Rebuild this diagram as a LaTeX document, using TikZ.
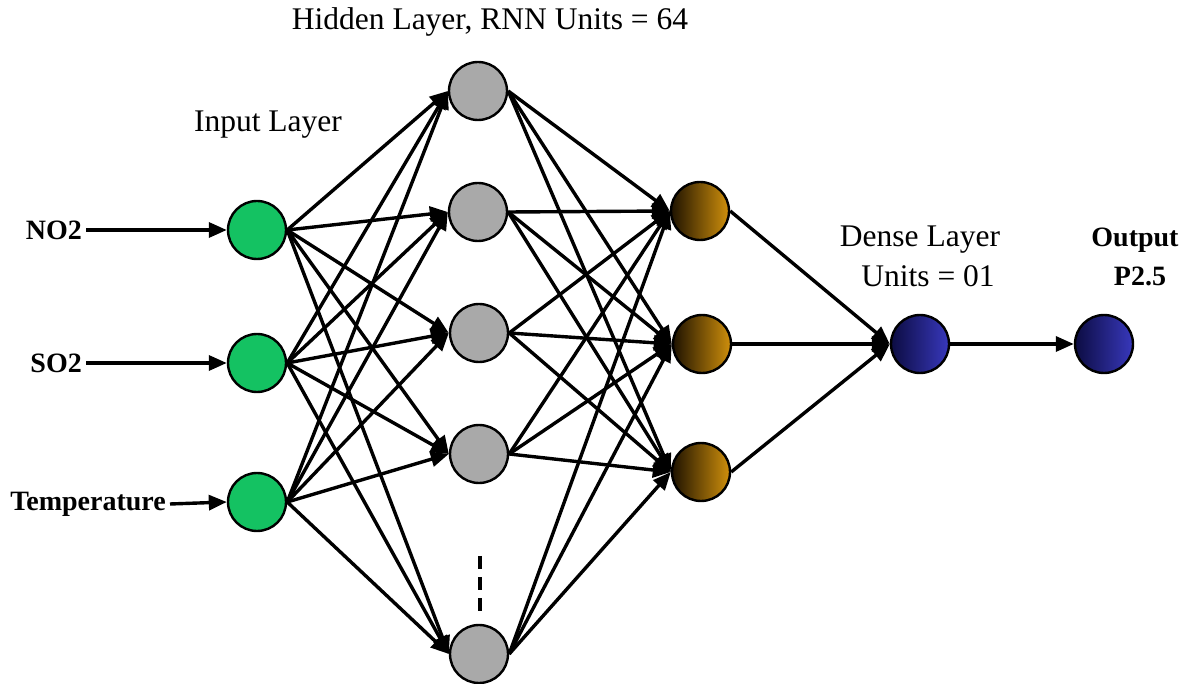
\documentclass[tikz,border=0pt]{standalone}
\usepackage{fontspec}
\setmainfont{Liberation Serif}
\usetikzlibrary{arrows.meta}
\definecolor{ingreen}{HTML}{14C262}
\definecolor{hidgray}{HTML}{A9A9A9}
\definecolor{browndark}{HTML}{1E1200}
\definecolor{brownlight}{HTML}{D0900C}
\definecolor{bluedark}{HTML}{0C0C42}
\definecolor{bluelight}{HTML}{3838BC}
\tikzset{
  neuron/.style={circle, draw=black, line width=2.4pt, minimum size=58pt, inner sep=0pt},
  inunit/.style={neuron, fill=ingreen},
  hidunit/.style={neuron, fill=hidgray},
  rnnunit/.style={neuron, left color=browndark, right color=brownlight},
  outunit/.style={neuron, left color=bluedark, right color=bluelight},
  link/.style={line width=3.4pt, -{Triangle[length=18pt,width=15pt]}},
  plain/.style={font=\fontsize{31.5}{36}\selectfont, inner sep=0pt},
  boldlabel/.style={font=\fontsize{28}{32}\selectfont\bfseries, inner sep=4pt},
}
\begin{document}
\begin{tikzpicture}[x=1pt,y=-1pt]
\useasboundingbox (0,0) rectangle (1187,684);

% input layer
\node[inunit] (i1) at (257,230) {};
\node[inunit] (i2) at (257,363) {};
\node[inunit] (i3) at (257,502) {};

% hidden RNN layer
\node[hidunit] (h1) at (478,91) {};
\node[hidunit] (h2) at (478,212) {};
\node[hidunit] (h3) at (479,333) {};
\node[hidunit] (h4) at (479,454) {};
\node[hidunit] (h5) at (479,654) {};

% second layer
\node[rnnunit] (r1) at (700,211) {};
\node[rnnunit] (r2) at (702,344) {};
\node[rnnunit] (r3) at (701,472) {};

% dense and output
\node[outunit] (d) at (920,344) {};
\node[outunit] (o) at (1104,344) {};

% titles
\node[plain] (tHidden) at (490,22) {Hidden Layer, RNN Units = 64};
\node[plain] (tInput) at (268,125) {Input Layer};
\node[plain] (tDense) at (920,240) {Dense Layer};
\node[plain] (tUnits) at (928,276) {Units = 01};
\node[boldlabel] (tOut) at (1135,240) {Output};
\node[boldlabel] (tP) at (1140,276) {P2.5};

% input labels
\node[boldlabel, anchor=east] (lNO) at (86,230) {NO2};
\node[boldlabel, anchor=east] (lSO) at (86,363) {SO2};
\node[boldlabel, anchor=east] (lT) at (170,504) {Temperature};

\draw[link] (lNO.east) -- (i1.west);
\draw[link] (lSO.east) -- (i2.west);
\draw[link] (lT.east) -- (i3.west);

% full connections, fanning out from the right point of each unit
\foreach \a in {i1,i2,i3}
  \foreach \b in {h1,h2,h3,h4,h5}
    \draw[link] (\a.east) -- (\b.west);
\foreach \a in {h1,h2,h3,h4,h5}
  \foreach \b in {r1,r2,r3}
    \draw[link] (\a.east) -- (\b.west);
\foreach \a in {r1,r2,r3}
  \draw[link] (\a.east) -- (d.west);
\draw[link] (d.east) -- (o.west);

% elided hidden units
\coordinate (dTop) at (480,556);
\coordinate (dBot) at (480,614);
\draw[line width=3.2pt, dash pattern=on 13pt off 8pt] (dTop) -- (dBot);
\end{tikzpicture}
\end{document}
